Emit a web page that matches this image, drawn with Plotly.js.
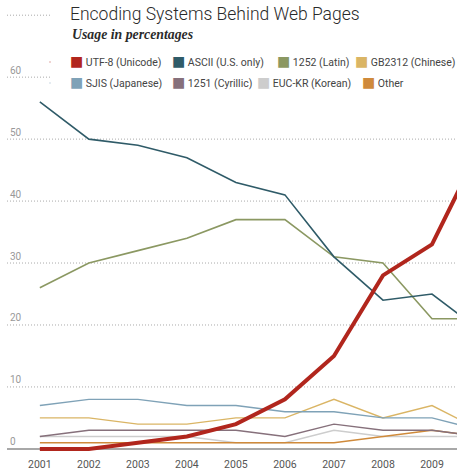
<!DOCTYPE html>
<html>
<head>
<meta charset="utf-8">
<script src="https://cdn.plot.ly/plotly-3.0.1.min.js"></script>
<style>html,body{margin:0;padding:0;background:#fff;}#chart{width:457px;height:473px;}</style>
</head>
<body>
<div id="chart"></div>
<script>
// ---- data (percent of web pages) ----
const years = [2001, 2002, 2003, 2004, 2005, 2006, 2007, 2008, 2009, 2010];
const yearTicks = [2001, 2002, 2003, 2004, 2005, 2006, 2007, 2008, 2009];
const yTicks = [0, 10, 20, 30, 40, 50, 60, 70];

const utf8      = [0, 0, 1, 2, 4, 8, 15, 28, 33, 49];
const ascii     = [56, 50, 49, 47, 43, 41, 31, 24, 25, 19];
const latin1252 = [26, 30, 32, 34, 37, 37, 31, 30, 21, 21];
const gb2312    = [5, 5, 4, 4, 5, 5, 8, 5, 7, 3];
const sjis      = [7, 8, 8, 7, 7, 6, 6, 5, 5, 3];
const cyr1251   = [2, 3, 3, 3, 3, 2, 4, 3, 3, 2];
const euckr     = [2, 2, 2, 2, 1, 1, 3, 2, 2, 2];
const other     = [1, 1, 1, 1, 1, 1, 1, 2, 3, 2];

const seriesNames = ['UTF-8 (Unicode)', 'ASCII (U.S. only)', '1252 (Latin)', 'GB2312 (Chinese)',
                     'SJIS (Japanese)', '1251 (Cyrillic)', 'EUC-KR (Korean)', 'Other'];
const seriesValues = [utf8, ascii, latin1252, gb2312, sjis, cyr1251, euckr, other];

// ---- styles ----
const colors = ['#b1261d', '#2f5b68', '#8b9862', '#dab565', '#7fa2b7', '#86707b', '#cdcdcd', '#cf8a3b'];
const widths = [4, 1.6, 1.6, 1.4, 1.4, 1.4, 1.4, 1.4];
const drawOrder = [6, 7, 5, 3, 4, 2, 1, 0];

// legend swatch left edges (px) and row centres
const swatchX = [70, 172, 277, 355, 70, 172, 257, 362];
const swatchY = [62, 62, 62, 62, 83, 83, 83, 83];

const W = 457, H = 473;
const M = {l: 7, r: 0, t: 9, b: 21, autoexpand: false};
const plotW = W - M.l - M.r, plotH = H - M.t - M.b;

const traces = [];
drawOrder.forEach(i => {
  traces.push({
    x: years, y: seriesValues[i], type: 'scatter', mode: 'lines',
    name: seriesNames[i], showlegend: false, hoverinfo: 'x+y+name',
    line: {color: colors[i], width: widths[i]}
  });
});
// legend entries: coloured square glyph + label
seriesNames.forEach((n, i) => {
  traces.push({
    x: [null], y: [null], type: 'scatter', mode: 'markers',
    name: '<span style="color:' + colors[i] + ';font-family:DejaVu Sans;font-size:14px">■</span> ' + n,
    legend: i === 0 ? 'legend' : 'legend' + (i + 1),
    showlegend: true, hoverinfo: 'skip',
    marker: {symbol: 'square', size: 1, opacity: 0, color: colors[i]}
  });
});

const FONT = 'Roboto, Arial, sans-serif';

const layout = {
  width: W, height: H,
  margin: M,
  paper_bgcolor: '#fff', plot_bgcolor: '#fff',
  showlegend: true,
  title: {
    text: 'Encoding Systems Behind Web Pages',
    x: 70 / W, xref: 'container', xanchor: 'left',
    y: 1 - 14 / H, yref: 'container', yanchor: 'middle',
    pad: {l: 0, r: 0, t: 0, b: 0},
    font: {family: FONT, size: 17.5, weight: 300, color: '#2a2a2a'}
  },
  annotations: [{
    text: '<b><i>Usage in percentages</i></b>',
    xref: 'paper', yref: 'paper',
    x: (70 - M.l) / plotW, xanchor: 'left',
    y: (H - M.b - 34) / plotH, yanchor: 'middle',
    showarrow: false,
    font: {family: 'Liberation Serif, Times New Roman, serif', size: 13.8, color: '#2a2a2a'}
  }],
  xaxis: {
    range: [2000.33, 2009.51],
    tickvals: yearTicks, ticktext: yearTicks.map(String),
    showgrid: false, zeroline: false, showline: false, ticks: '',
    ticklabelstandoff: 4,
    tickfont: {family: FONT, size: 10.5, color: '#555'},
    fixedrange: true
  },
  yaxis: {
    range: [-0.5, 71],
    tickvals: yTicks, ticktext: yTicks.map(String),
    ticklabelposition: 'inside top',
    showgrid: false, showline: false, ticks: '',
    zeroline: true, zerolinecolor: '#a8a8a8', zerolinewidth: 1.8,
    tickfont: {family: FONT, size: 10, color: '#999'},
    fixedrange: true
  },
  shapes: yTicks.filter(v => v > 0).map(v => ({
    type: 'line', xref: 'paper', yref: 'y',
    x0: 0, x1: v >= 60 ? (50 - M.l) / plotW : 1,
    y0: v, y1: v, layer: 'below',
    line: {color: '#aaaaaa', width: 1, dash: '1px,2px'}
  }))
};

seriesNames.forEach((n, i) => {
  const key = i === 0 ? 'legend' : 'legend' + (i + 1);
  const L = swatchX[i] - 40;
  layout[key] = {
    x: (L - M.l) / plotW, xanchor: 'left',
    y: (H - M.b - swatchY[i]) / plotH, yanchor: 'middle',
    orientation: 'h', bgcolor: 'rgba(0,0,0,0)', borderwidth: 0,
    font: {family: FONT, size: 10.5, color: '#444'},
    itemclick: false, itemdoubleclick: false
  };
});

Plotly.newPlot('chart', traces, layout, {displayModeBar: false, staticPlot: true});
</script>
</body>
</html>
